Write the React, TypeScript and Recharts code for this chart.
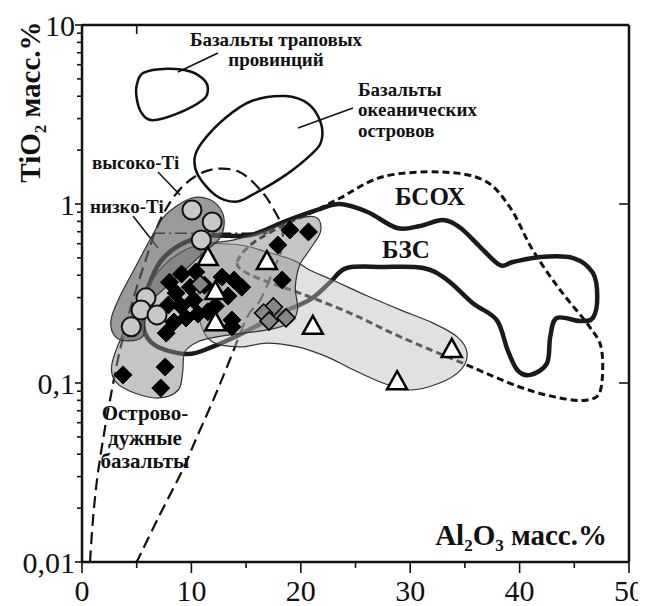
import React from 'react'
import {
  ScatterChart,
  Scatter,
  XAxis,
  YAxis,
  ReferenceLine,
  Customized,
} from 'recharts'

type Pt = { x: number; y: number }

// Field outlines, Al2O3 (wt.%) vs TiO2 (wt.%)
const trapField: Pt[] = [
  { x: 5.0, y: 4.6 }, { x: 5.6, y: 5.4 }, { x: 7.8, y: 5.7 }, { x: 9.9, y: 5.5 },
  { x: 11.2, y: 4.9 }, { x: 11.5, y: 4.3 }, { x: 11.0, y: 3.8 }, { x: 8.7, y: 3.2 },
  { x: 6.4, y: 2.94 }, { x: 5.4, y: 3.26 }, { x: 5.0, y: 3.9 },
]

const oceanIslandField: Pt[] = [
  { x: 10.3, y: 1.81 }, { x: 11.0, y: 2.22 }, { x: 13.1, y: 3.02 }, { x: 15.5, y: 3.76 },
  { x: 18.6, y: 4.01 }, { x: 20.7, y: 3.62 }, { x: 21.8, y: 2.87 }, { x: 21.9, y: 2.28 },
  { x: 21.1, y: 1.93 }, { x: 18.6, y: 1.45 }, { x: 15.5, y: 1.12 }, { x: 14.0, y: 1.03 },
  { x: 12.2, y: 1.12 }, { x: 10.6, y: 1.45 },
]

// island-arc envelope, open at the bottom
const islandArcBoundary: Pt[] = [
  { x: 0.73, y: 0.01 }, { x: 1.0, y: 0.0172 }, { x: 1.37, y: 0.0287 }, { x: 1.92, y: 0.0481 },
  { x: 2.56, y: 0.0804 }, { x: 3.47, y: 0.153 }, { x: 4.66, y: 0.291 }, { x: 5.76, y: 0.474 },
  { x: 6.95, y: 0.764 }, { x: 8.5, y: 1.12 }, { x: 10.3, y: 1.42 }, { x: 12.2, y: 1.57 },
  { x: 14.4, y: 1.51 }, { x: 16.3, y: 1.2 }, { x: 17.4, y: 0.962 }, { x: 18.3, y: 0.734 },
  { x: 18.2, y: 0.553 }, { x: 17.5, y: 0.428 }, { x: 16.3, y: 0.291 }, { x: 15.1, y: 0.234 },
  { x: 13.5, y: 0.134 }, { x: 12.0, y: 0.0804 }, { x: 10.5, y: 0.0499 }, { x: 9.2, y: 0.0327 },
  { x: 7.1, y: 0.0183 }, { x: 5.0, y: 0.01 },
]

// low-Ti / high-Ti divide
const tiDivide: Pt[] = [{ x: 6.5, y: 0.686 }, { x: 17.0, y: 0.686 }]

const morbField: Pt[] = [
  { x: 14.2, y: 0.474 }, { x: 15.4, y: 0.59 }, { x: 18.1, y: 0.745 }, { x: 21.1, y: 0.902 },
  { x: 23.6, y: 1.08 }, { x: 27.5, y: 1.42 }, { x: 32.7, y: 1.51 }, { x: 36.7, y: 1.36 },
  { x: 39.1, y: 0.962 }, { x: 41.2, y: 0.553 }, { x: 43.7, y: 0.331 }, { x: 46.4, y: 0.206 },
  { x: 47.5, y: 0.153 }, { x: 47.4, y: 0.0914 }, { x: 46.2, y: 0.0804 }, { x: 43.7, y: 0.0825 },
  { x: 40.0, y: 0.095 }, { x: 34.8, y: 0.129 }, { x: 29.1, y: 0.181 }, { x: 24.5, y: 0.246 },
  { x: 19.9, y: 0.318 }, { x: 17.2, y: 0.362 }, { x: 14.9, y: 0.417 },
]

const backArcField: Pt[] = [
  { x: 11.4, y: 0.662 }, { x: 15.4, y: 0.671 }, { x: 18.4, y: 0.793 }, { x: 21.5, y: 0.926 },
  { x: 23.6, y: 1.0 }, { x: 26.1, y: 0.902 }, { x: 28.8, y: 0.734 }, { x: 30.9, y: 0.754 },
  { x: 33.0, y: 0.814 }, { x: 34.6, y: 0.734 }, { x: 36.4, y: 0.575 }, { x: 38.2, y: 0.456 },
  { x: 39.4, y: 0.474 }, { x: 41.9, y: 0.506 }, { x: 44.9, y: 0.499 }, { x: 46.7, y: 0.412 },
  { x: 47.1, y: 0.302 }, { x: 46.7, y: 0.231 }, { x: 45.5, y: 0.222 }, { x: 43.4, y: 0.231 },
  { x: 42.8, y: 0.181 }, { x: 42.5, y: 0.129 }, { x: 41.0, y: 0.111 }, { x: 39.8, y: 0.118 },
  { x: 38.9, y: 0.153 }, { x: 37.9, y: 0.225 }, { x: 35.7, y: 0.28 }, { x: 33.4, y: 0.376 },
  { x: 31.2, y: 0.439 }, { x: 27.5, y: 0.445 }, { x: 24.2, y: 0.439 }, { x: 22.7, y: 0.366 },
  { x: 20.8, y: 0.291 }, { x: 18.4, y: 0.25 }, { x: 15.8, y: 0.206 }, { x: 14.0, y: 0.181 },
  { x: 11.9, y: 0.159 }, { x: 9.7, y: 0.145 }, { x: 6.95, y: 0.159 }, { x: 5.76, y: 0.19 },
  { x: 5.58, y: 0.256 }, { x: 6.03, y: 0.34 }, { x: 7.13, y: 0.474 }, { x: 8.96, y: 0.59 },
]

// shaded sample fields
const lightField: Pt[] = [
  { x: 11.2, y: 0.59 }, { x: 14.4, y: 0.59 }, { x: 16.9, y: 0.539 }, { x: 19.3, y: 0.486 },
  { x: 20.8, y: 0.428 }, { x: 22.9, y: 0.376 }, { x: 26.1, y: 0.306 }, { x: 29.1, y: 0.256 },
  { x: 32.1, y: 0.216 }, { x: 34.3, y: 0.181 }, { x: 35.2, y: 0.147 }, { x: 34.6, y: 0.118 },
  { x: 32.7, y: 0.1 }, { x: 30.0, y: 0.0914 }, { x: 27.5, y: 0.1 }, { x: 24.5, y: 0.121 },
  { x: 22.4, y: 0.14 }, { x: 19.7, y: 0.159 }, { x: 16.9, y: 0.167 }, { x: 14.4, y: 0.159 },
  { x: 11.9, y: 0.17 }, { x: 10.8, y: 0.219 }, { x: 10.6, y: 0.331 }, { x: 10.8, y: 0.486 },
]

const midField: Pt[] = [
  { x: 21.5, y: 0.836 }, { x: 21.8, y: 0.698 }, { x: 20.8, y: 0.553 }, { x: 19.9, y: 0.456 },
  { x: 19.5, y: 0.343 }, { x: 19.7, y: 0.256 }, { x: 19.0, y: 0.216 }, { x: 16.9, y: 0.198 },
  { x: 14.7, y: 0.19 }, { x: 12.3, y: 0.181 }, { x: 10.6, y: 0.17 }, { x: 9.4, y: 0.149 },
  { x: 9.2, y: 0.115 }, { x: 8.8, y: 0.0914 }, { x: 7.1, y: 0.0825 }, { x: 4.8, y: 0.0879 },
  { x: 3.1, y: 0.101 }, { x: 2.7, y: 0.123 }, { x: 3.3, y: 0.163 }, { x: 4.8, y: 0.256 },
  { x: 7.1, y: 0.428 }, { x: 9.4, y: 0.553 }, { x: 11.7, y: 0.605 }, { x: 13.8, y: 0.629 },
  { x: 16.9, y: 0.716 }, { x: 19.9, y: 0.836 },
]

const darkField: Pt[] = [
  { x: 8.5, y: 0.962 }, { x: 10.05, y: 1.08 }, { x: 11.5, y: 1.07 }, { x: 12.6, y: 0.95 },
  { x: 13.0, y: 0.793 }, { x: 12.6, y: 0.645 }, { x: 11.2, y: 0.539 }, { x: 9.4, y: 0.428 },
  { x: 7.6, y: 0.34 }, { x: 6.2, y: 0.28 }, { x: 5.76, y: 0.225 }, { x: 5.58, y: 0.183 },
  { x: 4.2, y: 0.172 }, { x: 3.0, y: 0.183 }, { x: 2.65, y: 0.225 }, { x: 3.4, y: 0.299 },
  { x: 4.84, y: 0.439 }, { x: 6.2, y: 0.629 }, { x: 7.4, y: 0.836 },
]

// samples
const blackDiamonds: Pt[] = [
  { x: 19.0, y: 0.716 }, { x: 20.7, y: 0.698 }, { x: 17.9, y: 0.59 }, { x: 18.3, y: 0.376 },
  { x: 13.7, y: 0.206 }, { x: 7.7, y: 0.19 }, { x: 7.6, y: 0.123 }, { x: 3.75, y: 0.111 },
  { x: 7.2, y: 0.0937 },
  { x: 8.0, y: 0.366 }, { x: 9.1, y: 0.406 }, { x: 8.6, y: 0.318 }, { x: 9.9, y: 0.343 },
  { x: 7.9, y: 0.273 }, { x: 9.05, y: 0.269 }, { x: 10.2, y: 0.291 }, { x: 9.5, y: 0.231 },
  { x: 8.4, y: 0.219 }, { x: 10.6, y: 0.243 }, { x: 10.4, y: 0.417 }, { x: 12.8, y: 0.391 },
  { x: 13.9, y: 0.376 }, { x: 14.6, y: 0.343 }, { x: 13.35, y: 0.306 }, { x: 12.2, y: 0.269 },
  { x: 13.7, y: 0.225 }, { x: 11.5, y: 0.25 }, { x: 11.2, y: 0.352 },
]

const grayDiamonds: Pt[] = [
  { x: 10.8, y: 0.357 }, { x: 17.5, y: 0.266 }, { x: 16.6, y: 0.246 }, { x: 17.1, y: 0.222 },
  { x: 18.65, y: 0.231 },
]

const circles: Pt[] = [
  { x: 10.05, y: 0.926 }, { x: 11.9, y: 0.793 }, { x: 10.9, y: 0.629 }, { x: 5.85, y: 0.299 },
  { x: 5.4, y: 0.256 }, { x: 6.86, y: 0.24 }, { x: 4.5, y: 0.206 },
]

const triangles: Pt[] = [
  { x: 11.5, y: 0.499 }, { x: 12.2, y: 0.322 }, { x: 12.2, y: 0.216 }, { x: 16.9, y: 0.474 },
  { x: 21.1, y: 0.206 }, { x: 33.8, y: 0.153 }, { x: 28.8, y: 0.101 },
]

const xTicks = [0, 5, 10, 15, 20, 25, 30, 35, 40, 45, 50]
const xLabelTicks = [0, 10, 20, 30, 40, 50]
const yLabelTicks = [0.01, 0.1, 1, 10]
const yTicks = [
  0.01, 0.02, 0.03, 0.04, 0.05, 0.06, 0.07, 0.08, 0.09,
  0.1, 0.2, 0.3, 0.4, 0.5, 0.6, 0.7, 0.8, 0.9,
  1, 2, 3, 4, 5, 6, 7, 8, 9, 10,
]

const SERIF = "'Liberation Serif', 'Times New Roman', serif"
const INK = '#111'

// Catmull-Rom spline through the scaled points
const smoothPath = (pts: { x: number; y: number }[], closed: boolean) => {
  const n = pts.length
  const at = (i: number) => (closed ? pts[(i + n) % n] : pts[Math.max(0, Math.min(n - 1, i))])
  let d = `M${pts[0].x},${pts[0].y}`
  const segs = closed ? n : n - 1
  for (let i = 0; i < segs; i++) {
    const p0 = at(i - 1)
    const p1 = at(i)
    const p2 = at(i + 1)
    const p3 = at(i + 2)
    const c1x = p1.x + (p2.x - p0.x) / 6
    const c1y = p1.y + (p2.y - p0.y) / 6
    const c2x = p2.x - (p3.x - p1.x) / 6
    const c2y = p2.y - (p3.y - p1.y) / 6
    d += ` C${c1x},${c1y} ${c2x},${c2y} ${p2.x},${p2.y}`
  }
  return closed ? d + ' Z' : d
}

const outline = (closed: boolean, style: React.SVGProps<SVGPathElement>) => (p: any) =>
  p && p.points && p.points.length > 1 ? <path d={smoothPath(p.points, closed)} {...style} /> : <g />

const noDot = () => <g />

const BlackDiamond = ({ cx, cy }: any) => (
  <path d={`M${cx},${cy - 9} L${cx + 9},${cy} L${cx},${cy + 9} L${cx - 9},${cy} Z`} fill='#000' stroke='#000' strokeWidth={1} />
)

const GrayDiamond = ({ cx, cy }: any) => (
  <path d={`M${cx},${cy - 9} L${cx + 9},${cy} L${cx},${cy + 9} L${cx - 9},${cy} Z`} fill='#858585' stroke='#000' strokeWidth={1.6} />
)

const GrayCircle = ({ cx, cy }: any) => (
  <circle cx={cx} cy={cy} r={9.5} fill='#c8c8c8' stroke={INK} strokeWidth={2} />
)

const OpenTriangle = ({ cx, cy }: any) => (
  <path d={`M${cx},${cy - 11} L${cx + 10},${cy + 7} L${cx - 10},${cy + 7} Z`} fill='#fff' stroke='#000' strokeWidth={2.5} strokeLinejoin='miter' />
)

const fmtTick = (v: number) => String(v).replace('.', ',')

const YTick = (props: any) => {
  const { x, y, payload } = props
  const major = yLabelTicks.includes(payload.value)
  return (
    <g>
      <line x1={x - (major ? 7 : 5)} y1={y} x2={x} y2={y} stroke={INK} strokeWidth={1.6} />
      {major && (
        <text x={x - 7} y={y} dy='0.35em' textAnchor='end' fontFamily={SERIF} fontSize={30} fill={INK}>
          {fmtTick(payload.value)}
        </text>
      )}
    </g>
  )
}

const XTick = (props: any) => {
  const { x, y, payload } = props
  const major = xLabelTicks.includes(payload.value)
  return (
    <g>
      <line x1={x} y1={y} x2={x} y2={y + (major ? 11 : 6)} stroke={INK} strokeWidth={1.6} />
      {major && (
        <text x={x} y={y + 39} textAnchor='middle' fontFamily={SERIF} fontSize={30} fill={INK}>
          {payload.value}
        </text>
      )}
    </g>
  )
}

// field names, leader lines and axis titles
const Annotations = () => {
  const bold = { fontFamily: SERIF, fontWeight: 700, fill: INK } as const
  return (
    <g>
      <text {...bold} fontSize={19} x={268} y={38} textAnchor='middle'>Базальты траповых</text>
      <text {...bold} fontSize={19} x={268} y={58} textAnchor='middle'>провинций</text>
      <line x1={170} y1={64} x2={210} y2={45} stroke={INK} strokeWidth={1.5} />

      <text {...bold} fontSize={19} x={350} y={88}>Базальты</text>
      <text {...bold} fontSize={19} x={350} y={108}>океанических</text>
      <text {...bold} fontSize={19} x={350} y={129}>островов</text>
      <line x1={290} y1={120} x2={345} y2={100} stroke={INK} strokeWidth={1.5} />

      <text {...bold} fontSize={19} x={84} y={161}>высоко-Ti</text>
      <line x1={150} y1={164} x2={172} y2={187} stroke={INK} strokeWidth={1.5} />
      <text {...bold} fontSize={19} x={82} y={205}>низко-Ti</text>
      <line x1={125} y1={208} x2={150} y2={240} stroke={INK} strokeWidth={1.5} />

      <text {...bold} fontSize={21} x={137} y={412} textAnchor='middle'>Острово-</text>
      <text {...bold} fontSize={21} x={137} y={437} textAnchor='middle'>дужные</text>
      <text {...bold} fontSize={21} x={137} y={460} textAnchor='middle'>базальты</text>

      <text {...bold} fontSize={25} x={387} y={197}>БСОХ</text>
      <text {...bold} fontSize={25} x={374} y={250}>БЗС</text>

      <text {...bold} fontSize={29} x={599} y={537} textAnchor='end'>
        Al<tspan fontSize={17} dy={6}>2</tspan>
        <tspan dy={-6}>O</tspan>
        <tspan fontSize={17} dy={6}>3</tspan>
        <tspan dy={-6}> масс.%</tspan>
      </text>

      <text {...bold} fontSize={29} transform='translate(32 94) rotate(-90)' textAnchor='middle'>
        TiO<tspan fontSize={17} dy={6}>2</tspan>
        <tspan dy={-6}> масс.%</tspan>
      </text>
    </g>
  )
}

const App = () => (
  <ScatterChart width={638} height={598} margin={{ top: 17, right: 17, bottom: 0, left: 0 }}>
    <XAxis
      type='number'
      dataKey='x'
      domain={[0, 50]}
      ticks={xTicks}
      interval={0}
      allowDataOverflow
      height={44}
      tickSize={0}
      tickMargin={0}
      tickLine={false}
      axisLine={{ stroke: INK, strokeWidth: 2.5 }}
      tick={<XTick />}
    />
    <YAxis
      type='number'
      dataKey='y'
      scale='log'
      domain={[0.01, 10]}
      ticks={yTicks}
      interval={0}
      allowDataOverflow
      width={74}
      tickSize={0}
      tickMargin={0}
      tickLine={false}
      axisLine={{ stroke: INK, strokeWidth: 2.5 }}
      tick={<YTick />}
    />

    {/* line work beneath the shaded fields */}
    <Scatter data={islandArcBoundary} shape={noDot} isAnimationActive={false}
      line={outline(false, { fill: 'none', stroke: INK, strokeWidth: 2.2, strokeDasharray: '12 6' })} />
    <Scatter data={tiDivide} shape={noDot} isAnimationActive={false}
      line={outline(false, { fill: 'none', stroke: INK, strokeWidth: 1.5, strokeDasharray: '12 4 2 4' })} />
    <Scatter data={morbField} shape={noDot} isAnimationActive={false}
      line={outline(true, { fill: 'none', stroke: INK, strokeWidth: 3, strokeDasharray: '7 4' })} />
    <Scatter data={backArcField} shape={noDot} isAnimationActive={false}
      line={outline(true, { fill: 'none', stroke: '#1a1a1a', strokeWidth: 4.5 })} />

    {/* shaded fields */}
    <Scatter data={lightField} shape={noDot} isAnimationActive={false}
      line={outline(true, { fill: '#bdbdbd', fillOpacity: 0.45, stroke: '#333', strokeWidth: 1.2 })} />
    <Scatter data={midField} shape={noDot} isAnimationActive={false}
      line={outline(true, { fill: '#8c8c8c', fillOpacity: 0.5, stroke: '#333', strokeWidth: 1.2 })} />
    <Scatter data={darkField} shape={noDot} isAnimationActive={false}
      line={outline(true, { fill: '#646464', fillOpacity: 0.65, stroke: '#333', strokeWidth: 1.2 })} />

    <Scatter data={trapField} shape={noDot} isAnimationActive={false}
      line={outline(true, { fill: 'none', stroke: INK, strokeWidth: 2.5 })} />
    <Scatter data={oceanIslandField} shape={noDot} isAnimationActive={false}
      line={outline(true, { fill: 'none', stroke: INK, strokeWidth: 2.5 })} />

    {/* samples */}
    <Scatter data={blackDiamonds} shape={<BlackDiamond />} isAnimationActive={false} />
    <Scatter data={grayDiamonds} shape={<GrayDiamond />} isAnimationActive={false} />
    <Scatter data={circles} shape={<GrayCircle />} isAnimationActive={false} />
    <Scatter data={triangles} shape={<OpenTriangle />} isAnimationActive={false} />

    {/* frame */}
    <ReferenceLine y={10} stroke={INK} strokeWidth={2.5} />
    <ReferenceLine x={50} stroke={INK} strokeWidth={2.5} />
    <ReferenceLine segment={[{ x: 49.1, y: 1 }, { x: 50, y: 1 }]} stroke={INK} strokeWidth={1.6} />
    <ReferenceLine segment={[{ x: 49.1, y: 0.1 }, { x: 50, y: 0.1 }]} stroke={INK} strokeWidth={1.6} />
    <ReferenceLine segment={[{ x: 5, y: 10 }, { x: 5, y: 8.9 }]} stroke={INK} strokeWidth={1.6} />

    <Customized component={Annotations} />
  </ScatterChart>
)

export default App
